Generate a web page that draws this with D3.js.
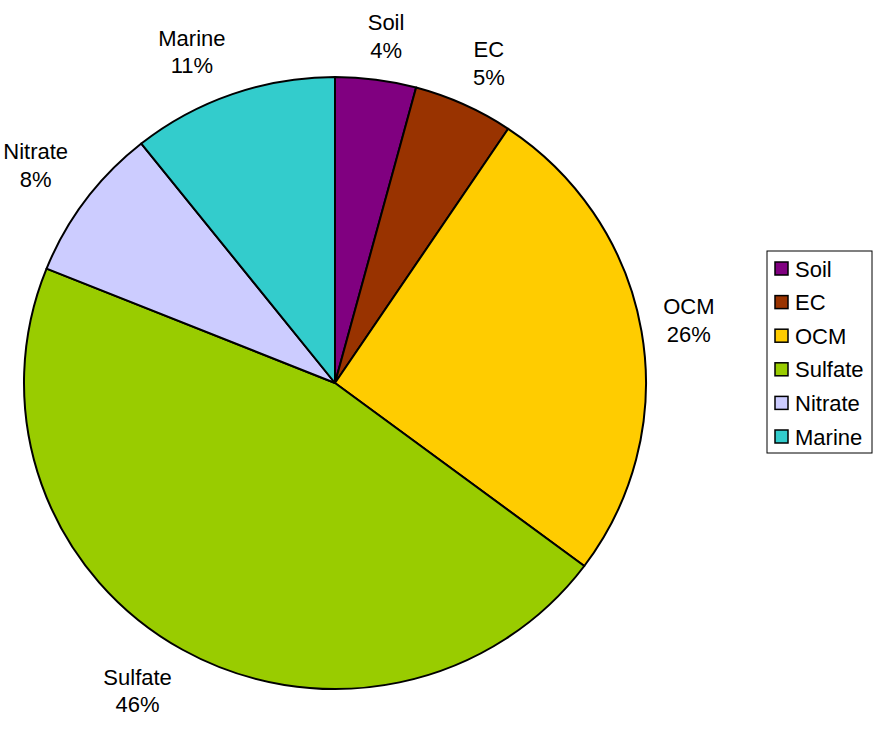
<!DOCTYPE html>
<html>
<head>
<meta charset="utf-8">
<script src="https://cdn.jsdelivr.net/npm/d3@7"></script>
<style>
  body { margin: 0; background: #fff; }
  text { font-family: "Liberation Sans", Arial, sans-serif; }
</style>
</head>
<body>
<script>
const [w, h] = [875, 729];

// chart data
const categories = ['Soil', 'EC', 'OCM', 'Sulfate', 'Nitrate', 'Marine'];
const shares = [4.2, 5.2, 25.8, 45.9, 8.2, 10.7];
const colors = ['#800080', '#993300', '#FFCC00', '#99CC00', '#CCCCFF', '#33CCCC'];

const slices = categories.map((c, i) => ({ name: c, value: shares[i], color: colors[i] }));

const [cx, cy, r, squash] = [335, 383, 311, 0.984];
const fontSize = 22;

const svg = d3.select('body')
  .append('svg')
  .attr('width', w)
  .attr('height', h);

const pie = d3.pie()
  .value(d => d.value)
  .sort(null);

const arcs = pie(slices);

const arc = d3.arc().innerRadius(0).outerRadius(r);
const labelR = r + 22;

const plot = svg.append('g')
  .attr('transform', `translate(${cx}, ${cy}) scale(1, ${squash})`);

plot.selectAll('path')
  .data(arcs)
  .enter()
  .append('path')
  .attr('d', arc)
  .attr('fill', d => d.data.color)
  .attr('stroke', 'black')
  .attr('stroke-width', 2)
  .attr('stroke-linejoin', 'round');

// labels outside the pie, pushed out by part of their box size
const total = d3.sum(shares);
const labels = svg.append('g')
  .attr('transform', `translate(${cx}, ${cy})`)
  .selectAll('text')
  .data(arcs)
  .enter()
  .append('text')
  .attr('text-anchor', 'middle')
  .attr('font-size', fontSize)
  .attr('fill', '#000');

labels.append('tspan')
  .attr('x', 0)
  .attr('y', -5.75)
  .text(d => d.data.name);

labels.append('tspan')
  .attr('x', 0)
  .attr('y', 21.75)
  .text(d => Math.round(d.data.value / total * 100) + '%');

labels.attr('transform', function (d) {
  const a = (d.startAngle + d.endAngle) / 2;
  const bw = d3.max(Array.from(this.querySelectorAll('tspan')), t => t.getComputedTextLength());
  const bh = 44;
  const sx = Math.sin(a), cy_ = -Math.cos(a);
  const fx = Math.min(1, 3 * Math.abs(sx)) * Math.sign(sx);
  const fy = Math.min(1, 2 * Math.abs(cy_)) * Math.sign(cy_);
  const x = sx * labelR + fx * bw / 2;
  const y = cy_ * labelR * squash + fy * bh / 2;
  return `translate(${x}, ${y})`;
});

// legend
const legend = svg.append('g').attr('transform', 'translate(767, 251)');

legend.append('rect')
  .attr('width', 105)
  .attr('height', 202)
  .attr('fill', 'white')
  .attr('stroke', 'black')
  .attr('stroke-width', 1);

const item = legend.selectAll('g.item')
  .data(slices)
  .enter()
  .append('g')
  .attr('class', 'item')
  .attr('transform', (d, i) => `translate(8, ${11 + i * 33.6})`);

item.append('rect')
  .attr('width', 13)
  .attr('height', 13)
  .attr('fill', d => d.color)
  .attr('stroke', 'black')
  .attr('stroke-width', 1.5);

item.append('text')
  .attr('x', 20)
  .attr('y', 14.5)
  .attr('font-size', fontSize)
  .text(d => d.name);
</script>
</body>
</html>
